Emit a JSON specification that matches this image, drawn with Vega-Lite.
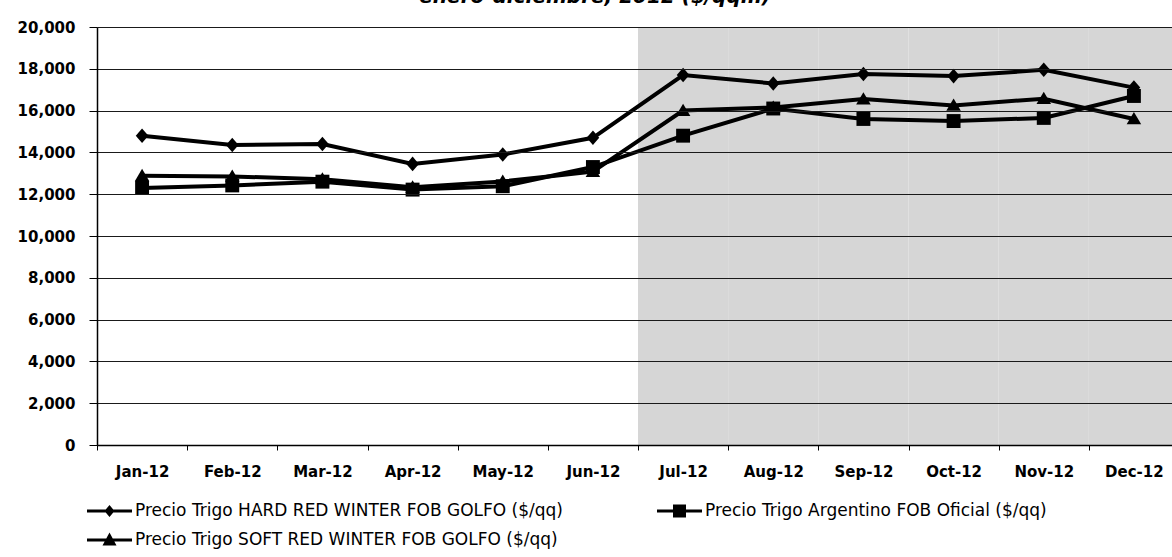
{
  "$schema": "https://vega.github.io/schema/vega-lite/v6.json",
  "width": 1082,
  "height": 418,
  "autosize": {"type": "none"},
  "padding": {"left": 97, "top": 27, "right": 0, "bottom": 112},
  "background": "white",
  "title": {
    "text": "enero-diciembre, 2012 ($/qqm)",
    "font": "DejaVu Sans",
    "fontSize": 20,
    "fontWeight": "bold",
    "fontStyle": "italic",
    "color": "black",
    "offset": 13,
    "dx": -43
  },
  "data": {
    "values": [
      {"month": "Jan-12", "series": "Precio Trigo HARD RED WINTER FOB GOLFO ($/qq)", "value": 14800},
      {"month": "Feb-12", "series": "Precio Trigo HARD RED WINTER FOB GOLFO ($/qq)", "value": 14350},
      {"month": "Mar-12", "series": "Precio Trigo HARD RED WINTER FOB GOLFO ($/qq)", "value": 14400},
      {"month": "Apr-12", "series": "Precio Trigo HARD RED WINTER FOB GOLFO ($/qq)", "value": 13450},
      {"month": "May-12", "series": "Precio Trigo HARD RED WINTER FOB GOLFO ($/qq)", "value": 13900},
      {"month": "Jun-12", "series": "Precio Trigo HARD RED WINTER FOB GOLFO ($/qq)", "value": 14700},
      {"month": "Jul-12", "series": "Precio Trigo HARD RED WINTER FOB GOLFO ($/qq)", "value": 17700},
      {"month": "Aug-12", "series": "Precio Trigo HARD RED WINTER FOB GOLFO ($/qq)", "value": 17300},
      {"month": "Sep-12", "series": "Precio Trigo HARD RED WINTER FOB GOLFO ($/qq)", "value": 17750},
      {"month": "Oct-12", "series": "Precio Trigo HARD RED WINTER FOB GOLFO ($/qq)", "value": 17650},
      {"month": "Nov-12", "series": "Precio Trigo HARD RED WINTER FOB GOLFO ($/qq)", "value": 17950},
      {"month": "Dec-12", "series": "Precio Trigo HARD RED WINTER FOB GOLFO ($/qq)", "value": 17100},
      {"month": "Jan-12", "series": "Precio Trigo Argentino FOB Oficial ($/qq)", "value": 12300},
      {"month": "Feb-12", "series": "Precio Trigo Argentino FOB Oficial ($/qq)", "value": 12420},
      {"month": "Mar-12", "series": "Precio Trigo Argentino FOB Oficial ($/qq)", "value": 12600},
      {"month": "Apr-12", "series": "Precio Trigo Argentino FOB Oficial ($/qq)", "value": 12220},
      {"month": "May-12", "series": "Precio Trigo Argentino FOB Oficial ($/qq)", "value": 12380},
      {"month": "Jun-12", "series": "Precio Trigo Argentino FOB Oficial ($/qq)", "value": 13300},
      {"month": "Jul-12", "series": "Precio Trigo Argentino FOB Oficial ($/qq)", "value": 14800},
      {"month": "Aug-12", "series": "Precio Trigo Argentino FOB Oficial ($/qq)", "value": 16100},
      {"month": "Sep-12", "series": "Precio Trigo Argentino FOB Oficial ($/qq)", "value": 15600},
      {"month": "Oct-12", "series": "Precio Trigo Argentino FOB Oficial ($/qq)", "value": 15500},
      {"month": "Nov-12", "series": "Precio Trigo Argentino FOB Oficial ($/qq)", "value": 15650},
      {"month": "Dec-12", "series": "Precio Trigo Argentino FOB Oficial ($/qq)", "value": 16700},
      {"month": "Jan-12", "series": "Precio Trigo SOFT RED WINTER FOB GOLFO ($/qq)", "value": 12880},
      {"month": "Feb-12", "series": "Precio Trigo SOFT RED WINTER FOB GOLFO ($/qq)", "value": 12850},
      {"month": "Mar-12", "series": "Precio Trigo SOFT RED WINTER FOB GOLFO ($/qq)", "value": 12720},
      {"month": "Apr-12", "series": "Precio Trigo SOFT RED WINTER FOB GOLFO ($/qq)", "value": 12330},
      {"month": "May-12", "series": "Precio Trigo SOFT RED WINTER FOB GOLFO ($/qq)", "value": 12610},
      {"month": "Jun-12", "series": "Precio Trigo SOFT RED WINTER FOB GOLFO ($/qq)", "value": 13080},
      {"month": "Jul-12", "series": "Precio Trigo SOFT RED WINTER FOB GOLFO ($/qq)", "value": 16000},
      {"month": "Aug-12", "series": "Precio Trigo SOFT RED WINTER FOB GOLFO ($/qq)", "value": 16150},
      {"month": "Sep-12", "series": "Precio Trigo SOFT RED WINTER FOB GOLFO ($/qq)", "value": 16550},
      {"month": "Oct-12", "series": "Precio Trigo SOFT RED WINTER FOB GOLFO ($/qq)", "value": 16250},
      {"month": "Nov-12", "series": "Precio Trigo SOFT RED WINTER FOB GOLFO ($/qq)", "value": 16570},
      {"month": "Dec-12", "series": "Precio Trigo SOFT RED WINTER FOB GOLFO ($/qq)", "value": 15600}
    ]
  },
  "encoding": {
    "x": {
      "field": "month",
      "type": "ordinal",
      "sort": ["Jan-12", "Feb-12", "Mar-12", "Apr-12", "May-12", "Jun-12", "Jul-12", "Aug-12", "Sep-12", "Oct-12", "Nov-12", "Dec-12"],
      "scale": {"paddingInner": 0, "paddingOuter": 0},
      "axis": {
        "title": null,
        "labelAngle": 0,
        "tickBand": "extent",
        "grid": false,
        "domainColor": "black",
        "domainWidth": 1.5,
        "tickColor": "black",
        "tickSize": 5,
        "labelPadding": 14,
        "labelFont": "DejaVu Sans",
        "labelFontWeight": "bold",
        "labelFontSize": 15,
        "labelColor": "black",
        "zindex": 1
      }
    }
  },
  "layer": [
    {
      "transform": [
        {"filter": {"field": "series", "equal": "Precio Trigo HARD RED WINTER FOB GOLFO ($/qq)"}},
        {"filter": {"field": "month", "oneOf": ["Jul-12", "Aug-12", "Sep-12", "Oct-12", "Nov-12", "Dec-12"]}}
      ],
      "mark": {"type": "bar", "color": "#d6d6d6"},
      "encoding": {
        "y": {"datum": 20000, "type": "quantitative"}
      }
    },
    {
      "mark": {"type": "line", "color": "black", "strokeWidth": 4},
      "encoding": {
        "y": {
          "field": "value",
          "type": "quantitative",
          "scale": {"domain": [0, 20000], "nice": false},
          "axis": {
            "title": null,
            "values": [0, 2000, 4000, 6000, 8000, 10000, 12000, 14000, 16000, 18000, 20000],
            "format": ",.0f",
            "grid": true,
            "gridColor": "#1a1a1a",
            "gridWidth": 1,
            "domainColor": "black",
            "domainWidth": 1.5,
            "tickColor": "black",
            "tickSize": 8,
            "labelPadding": 14,
            "labelFont": "DejaVu Sans",
            "labelFontWeight": "bold",
            "labelFontSize": 15,
            "labelColor": "black",
            "zindex": 1
          }
        },
        "detail": {"field": "series"}
      }
    },
    {
      "mark": {"type": "point", "filled": true, "color": "black", "opacity": 1, "size": 160},
      "encoding": {
        "y": {"field": "value", "type": "quantitative"},
        "shape": {
          "field": "series",
          "type": "nominal",
          "scale": {
            "domain": ["Precio Trigo HARD RED WINTER FOB GOLFO ($/qq)", "Precio Trigo Argentino FOB Oficial ($/qq)", "Precio Trigo SOFT RED WINTER FOB GOLFO ($/qq)"],
            "range": ["M0,-1.15L1,0L0,1.15L-1,0Z", "M-1.1,-1.1L1.1,-1.1L1.1,1.1L-1.1,1.1Z", "M0,-1.1L1.15,0.85L-1.15,0.85Z"]
          },
          "legend": null
        }
      }
    },
    {
      "transform": [{"filter": "datum.value < 0"}],
      "mark": {"type": "point", "filled": true, "color": "black", "opacity": 1, "size": 400},
      "encoding": {
        "y": {"field": "value", "type": "quantitative"},
        "shape": {
          "field": "series",
          "type": "nominal",
          "scale": {
            "domain": ["Precio Trigo HARD RED WINTER FOB GOLFO ($/qq)", "Precio Trigo Argentino FOB Oficial ($/qq)", "Precio Trigo SOFT RED WINTER FOB GOLFO ($/qq)"],
            "range": [
              "M-2,-0.15L2.5,-0.15L2.5,0.15L-2,0.15ZM0.25,-0.6L0.75,0L0.25,0.6L-0.25,0Z",
              "M-2,-0.15L2.5,-0.15L2.5,0.15L-2,0.15ZM-0.4,-0.65L0.9,-0.65L0.9,0.65L-0.4,0.65Z",
              "M-2,-0.15L2.5,-0.15L2.5,0.15L-2,0.15ZM0.25,-0.75L0.95,0.55L-0.45,0.55Z"
            ]
          },
          "legend": {
            "title": null,
            "orient": "bottom",
            "columns": 2,
            "columnPadding": 94,
            "rowPadding": 11,
            "offset": 22,
            "labelFont": "DejaVu Sans",
            "labelFontSize": 17,
            "labelColor": "black",
            "labelOffset": 18,
            "labelLimit": 0,
            "symbolSize": 400,
            "symbolStrokeWidth": 0,
            "symbolFillColor": "black"
          }
        }
      }
    }
  ],
  "resolve": {"scale": {"shape": "independent"}}
}
